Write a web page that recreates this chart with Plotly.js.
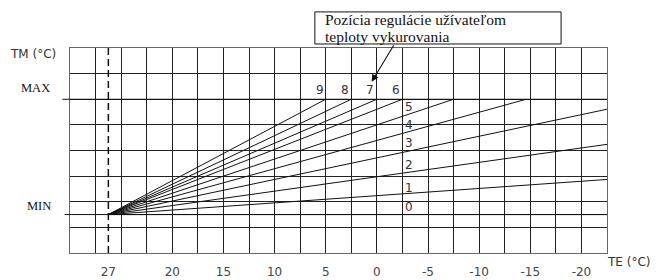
<!DOCTYPE html>
<html>
<head>
<meta charset="utf-8">
<script src="https://cdn.plot.ly/plotly-3.0.1.min.js"></script>
<style>html,body{margin:0;padding:0;background:#fff;}#chart{width:661px;height:280px;}</style>
</head>
<body>
<div id="chart"></div>
<script>
// Heating curves: position of the user setting (0-9)
const curveNames = ['0', '1', '2', '3', '4', '5', '6', '7', '8', '9'];
// common start of all curves (TE axis position of the "27" mark, MIN level)
const originTE = 26.25;
const originTM = 1.5;
// end point of each curve (TE axis units, TM in grid units; MIN = 1.5, MAX = 6)
const endTE = [-22.5, -22.5, -22.5, -22.5, -14.6, -7.5, -2.5, 0, 2.5, 5];
const endTM = [1.5, 2.87, 4.24, 5.61, 6, 6, 6, 6, 6, 6];
// curve label anchors
const labelTE = [-2.5, -2.5, -2.5, -2.5, -2.5, -2.5, -1.91, 0.63, 3.08, 5.52];
const labelTM = [1.79, 2.53, 3.43, 4.29, 5.0, 5.69, 6.37, 6.37, 6.37, 6.37];
// x tick labels
const teTickVals = [26.25, 20, 15, 10, 5, 0, -5, -10, -15, -20];
const teTickText = ['27', '20', '15', '10', '5', '0', '-5', '-10', '-15', '-20'];
const levelNames = ['MIN', 'MAX'];
const levelTM = [1.5, 6];
const noteLines = ['Pozícia regulácie užívateľom', 'teploty vykurovania'];

const xRange = [30, -22.5];
const yRange = [0, 8];
const sans = 'DejaVu Sans, sans-serif';
const serif = 'Liberation Serif, Times New Roman, serif';
const ink = '#111';

const traces = curveNames.map((n, i) => ({
  type: 'scatter', mode: 'lines', name: n,
  x: [originTE, endTE[i]], y: [originTM, endTM[i]],
  line: {color: ink, width: 1}, hoverinfo: 'skip', showlegend: false,
  xaxis: 'x', yaxis: 'y'
}));
// dashed marker line at TE = 27
traces.push({
  type: 'scatter', mode: 'lines', x: [originTE, originTE], y: yRange,
  line: {color: ink, width: 1.5, dash: '7px,4px'}, hoverinfo: 'skip', showlegend: false,
  xaxis: 'x2', yaxis: 'y'
});

const annotations = curveNames.map((n, i) => ({
  text: n, x: labelTE[i], y: labelTM[i], xref: 'x', yref: 'y',
  xanchor: i < 6 ? 'left' : 'center', yanchor: 'middle', xshift: i < 6 ? 1 : 0,
  showarrow: false, font: {family: sans, size: 12, color: '#333'}
}));
const noteY = [1.1385, 1.0568];
noteLines.forEach((t, i) => annotations.push(
  {text: t, xref: 'paper', yref: 'paper', x: 0.4708, y: noteY[i], xanchor: 'left', yanchor: 'middle',
   showarrow: false, font: {family: serif, size: 15.5, color: '#111'}}
));
annotations.push(
  {text: '', xref: 'x', yref: 'y', x: 0.51, y: 6.68, ax: 23, ay: -38, showarrow: true,
   arrowhead: 2, arrowsize: 1.3, arrowwidth: 1.1, arrowcolor: ink, standoff: 0},
  {text: 'TM\u00A0(°C)', xref: 'paper', yref: 'paper', x: -0.0695, y: 0.987, yshift: -3,
   xanchor: 'center', yanchor: 'middle', showarrow: false, font: {family: sans, size: 12, color: '#333'}},
  {text: 'TE\u00A0(°C)', xref: 'paper', yref: 'paper', x: 1.0404, y: -0.0455,
   xanchor: 'center', yanchor: 'middle', showarrow: false, font: {family: sans, size: 12, color: '#333'}},
  {text: levelNames[1], xref: 'paper', yref: 'y', x: -0.0635, y: levelTM[1], yshift: 11.5,
   xanchor: 'center', yanchor: 'middle', showarrow: false, font: {family: serif, size: 12.5, color: '#111'}},
  {text: levelNames[0], xref: 'paper', yref: 'y', x: -0.057, y: levelTM[0], yshift: 9,
   xanchor: 'center', yanchor: 'middle', showarrow: false, font: {family: serif, size: 12.5, color: '#111'}}
);

const shapes = [
  {type: 'rect', xref: 'paper', yref: 'paper', x0: 0.456, x1: 0.9145, y0: 1.0196, y1: 1.176,
   line: {color: ink, width: 1}, fillcolor: '#fff', layer: 'below'},
  {type: 'line', xref: 'paper', yref: 'y', x0: -0.0099, x1: 1, y0: levelTM[0], y1: levelTM[0],
   line: {color: ink, width: 1}},
  {type: 'line', xref: 'paper', yref: 'y', x0: -0.0142, x1: 1, y0: levelTM[1], y1: levelTM[1],
   line: {color: ink, width: 1}}
];

const layout = {
  width: 661, height: 280,
  margin: {l: 70, r: 54, t: 48, b: 27, pad: 0},
  paper_bgcolor: '#fff', plot_bgcolor: '#fff',
  showlegend: false,
  xaxis: {range: xRange, tickmode: 'linear', tick0: 0, dtick: 2.5, showgrid: true,
    gridcolor: '#222', gridwidth: 1, showticklabels: false, zeroline: false,
    showline: true, mirror: true, linecolor: '#666', linewidth: 1, ticks: ''},
  xaxis2: {range: xRange, overlaying: 'x', side: 'bottom', tickmode: 'array',
    tickvals: teTickVals, ticktext: teTickText, showgrid: false, zeroline: false,
    showline: false, ticks: 'outside', ticklen: 8, tickcolor: 'rgba(0,0,0,0)',
    tickfont: {family: sans, size: 12, color: '#444'}},
  yaxis: {range: yRange, tickmode: 'linear', tick0: 0, dtick: 1, showgrid: true,
    gridcolor: '#222', gridwidth: 1, showticklabels: false, zeroline: false,
    showline: true, mirror: true, linecolor: '#666', linewidth: 1, ticks: ''},
  annotations: annotations,
  shapes: shapes
};

Plotly.newPlot('chart', traces, layout, {staticPlot: true, displayModeBar: false});
</script>
</body>
</html>
